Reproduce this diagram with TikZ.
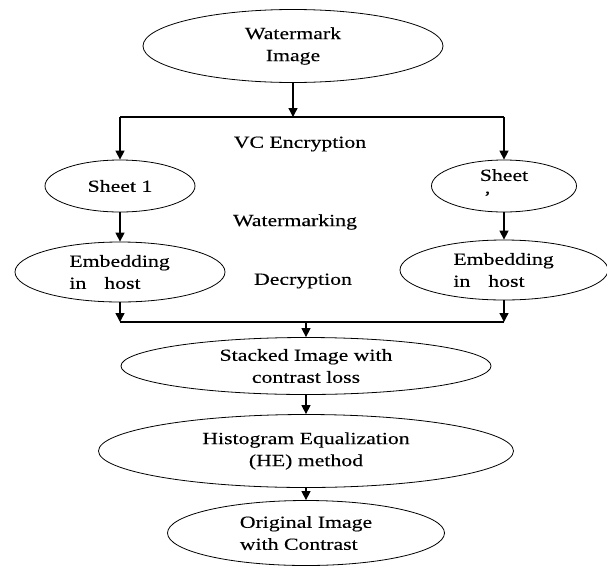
\documentclass[tikz,border=0pt]{standalone}
\usepackage{fontspec}
\setmainfont[FakeStretch=1.28,FakeBold=0.3]{Liberation Serif}
\usetikzlibrary{shapes.geometric,arrows.meta}
\begin{document}
\begin{tikzpicture}[x=1pt,y=-1pt,
  el/.style={draw, ellipse, line width=0.8pt, inner sep=0pt,
             font=\fontsize{17}{22}\selectfont},
  lbl/.style={font=\fontsize{17}{22}\selectfont},
  arr/.style={line width=1.4pt, -{Triangle[width=9pt,length=9pt]}},
  ln/.style={line width=1.4pt}]
\useasboundingbox (0,0) rectangle (607,581);
% nodes
\node[el, align=center, minimum width=300pt, minimum height=73pt] (wm) at (293,46) {Watermark\\Image};
\node[el, minimum width=150pt, minimum height=52pt] (s1) at (120,186) {Sheet 1};
\node[el, align=left, minimum width=145pt, minimum height=52pt] (s2) at (504,186) {Sheet\\\hspace*{4pt}\textquoteright};
\node[el, align=left, minimum width=210pt, minimum height=60pt] (e1) at (120,272) {Embedding\\in\hspace{18pt}host\hspace*{30pt}};
\node[el, align=left, minimum width=208pt, minimum height=60pt] (e2) at (504,270) {Embedding\\in\hspace{18pt}host\hspace*{30pt}};
\node[el, align=center, minimum width=370pt, minimum height=57pt] (st) at (306,366) {Stacked Image with\\contrast loss};
\node[el, align=center, minimum width=415pt, minimum height=73pt] (he) at (306,451) {Histogram Equalization\\(HE) method};
\node[el, align=left, minimum width=277pt, minimum height=65pt] (or) at (306,533) {Original Image\\with Contrast};
% free labels
\node[lbl] (vc) at (300,144) {VC Encryption};
\node[lbl] (wmk) at (295,222) {Watermarking};
\node[lbl] (dec) at (303,281) {Decryption};
% connectors
\coordinate (j1) at (293,117);
\coordinate (k) at (306,322);
\draw[arr] (wm.south) -- (j1);
\draw[ln] (s1.north |- j1) -- (s2.north |- j1);
\draw[arr] (s1.north |- j1) -- (s1.north);
\draw[arr] (s2.north |- j1) -- (s2.north);
\draw[arr] (s1.south) -- (e1.north);
\draw[arr] (s2.south) -- (e2.north);
\draw[arr] (e1.south) -- (e1.south |- k);
\draw[arr] (e2.south) -- (e2.south |- k);
\draw[ln] (e1.south |- k) -- (e2.south |- k);
\draw[arr] (k) -- (st.north);
\draw[arr] (st.south) -- (he.north);
\draw[arr] (he.south) -- (or.north);
\end{tikzpicture}
\end{document}
